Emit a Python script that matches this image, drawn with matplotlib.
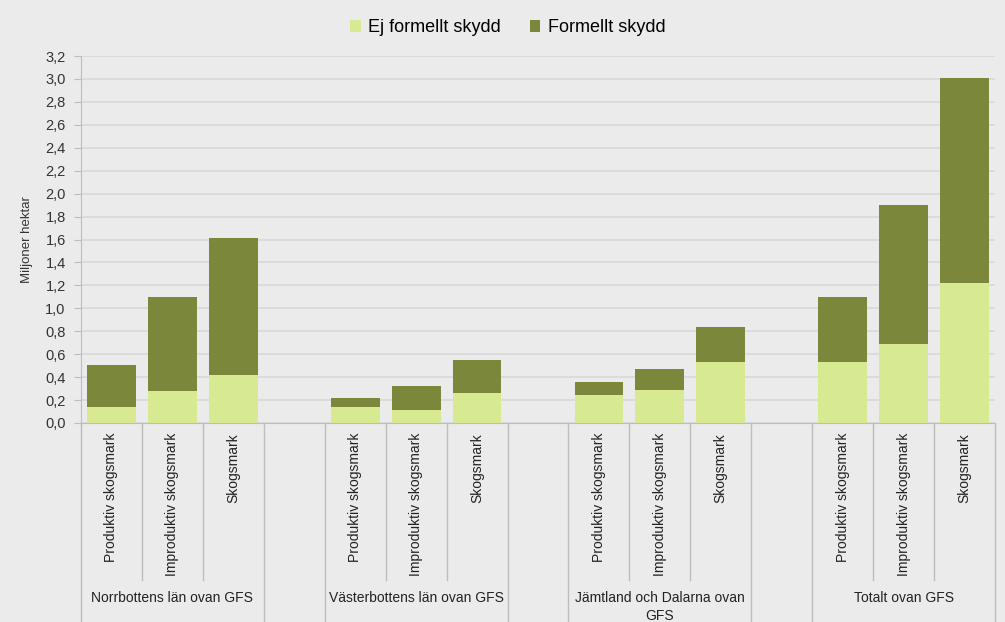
import matplotlib
matplotlib.use("Agg")
import matplotlib.pyplot as plt
import matplotlib.transforms as mtransforms
import numpy as np

plt.rcParams['font.family'] = ['Liberation Sans', 'DejaVu Sans']

groups = ["Norrbottens län ovan GFS", "Västerbottens län ovan GFS",
          "Jämtland och Dalarna ovan\nGFS", "Totalt ovan GFS"]
categories = ["Produktiv skogsmark", "Improduktiv skogsmark", "Skogsmark"]
series_names = ["Ej formellt skydd", "Formellt skydd"]
# values per group, per category (miljoner hektar)
ej_formellt = [[0.14, 0.28, 0.42],
               [0.14, 0.11, 0.26],
               [0.24, 0.29, 0.53],
               [0.53, 0.69, 1.22]]
totalt = [[0.51, 1.10, 1.61],
          [0.22, 0.32, 0.55],
          [0.36, 0.47, 0.84],
          [1.10, 1.90, 3.01]]
yticks = [0.0, 0.2, 0.4, 0.6, 0.8, 1.0, 1.2, 1.4, 1.6, 1.8, 2.0, 2.2, 2.4, 2.6, 2.8, 3.0, 3.2]

bg = "#ebebeb"
c_light = "#d8ea91"
c_dark = "#7b873a"
grid_c = "#d8d8d8"
line_c = "#bdbdbd"

fig = plt.figure(figsize=(10.05, 6.22), dpi=100, facecolor=bg)
ax = fig.add_axes([81/1005, 199/622, 914/1005, 367/622], facecolor=bg)

ncat = len(categories)
positions = []
for gi in range(len(groups)):
    for ci in range(ncat):
        positions.append(gi * (ncat + 1) + ci)
ej_flat = [v for g in ej_formellt for v in g]
tot_flat = [v for g in totalt for v in g]
form_flat = [t - e for t, e in zip(tot_flat, ej_flat)]

ax.bar(positions, ej_flat, width=0.8, color=c_light, label=series_names[0], zorder=3)
ax.bar(positions, form_flat, width=0.8, bottom=ej_flat, color=c_dark, label=series_names[1], zorder=3)

nslots = len(groups) * (ncat + 1) - 1
ax.set_xlim(-0.5, nslots - 0.5)
ax.set_ylim(0, 3.2)
ax.set_yticks(yticks)
ax.set_yticklabels([f"{t:.1f}".replace(".", ",") for t in yticks], fontsize=10.5, color="#333333")
ax.tick_params(axis='y', length=5, color=line_c, pad=6)
ax.set_xticks([])
for s in ["top", "right"]:
    ax.spines[s].set_visible(False)
ax.spines["left"].set_color(line_c)
ax.spines["bottom"].set_color(line_c)
ax.yaxis.grid(True, color=grid_c, lw=1.2, zorder=0)
ax.set_axisbelow(True)
ax.set_ylabel("Miljoner hektar", fontsize=9.5, color="#333333", labelpad=9)

trans = mtransforms.blended_transform_factory(ax.transData, ax.transAxes)
short_y = -157/367
long_y = -200/367
# separators
for gi in range(len(groups)):
    start = gi * (ncat + 1) - 0.5
    end = start + ncat
    for xb in (start, end):
        ax.plot([xb, xb], [0, long_y], transform=trans, color=line_c, lw=1, clip_on=False)
    for k in range(1, ncat):
        xb = start + k
        ax.plot([xb, xb], [0, short_y], transform=trans, color=line_c, lw=1, clip_on=False)
    for ci in range(ncat):
        ax.text(start + ci + 0.5, -10/367, categories[ci], transform=trans, rotation=90,
                ha="center", va="top", fontsize=10, color="#222222")
    ax.text(start + ncat / 2, -168/367, groups[gi], transform=trans,
            ha="center", va="top", fontsize=10, color="#222222", linespacing=1.35)

leg = fig.legend(loc="upper center", bbox_to_anchor=(0.505, 0.995), ncol=2, frameon=False,
                 fontsize=13, handlelength=0.6, handleheight=0.6, handletextpad=0.4,
                 columnspacing=1.6)

fig.savefig("out.png", dpi=100, facecolor=bg)
